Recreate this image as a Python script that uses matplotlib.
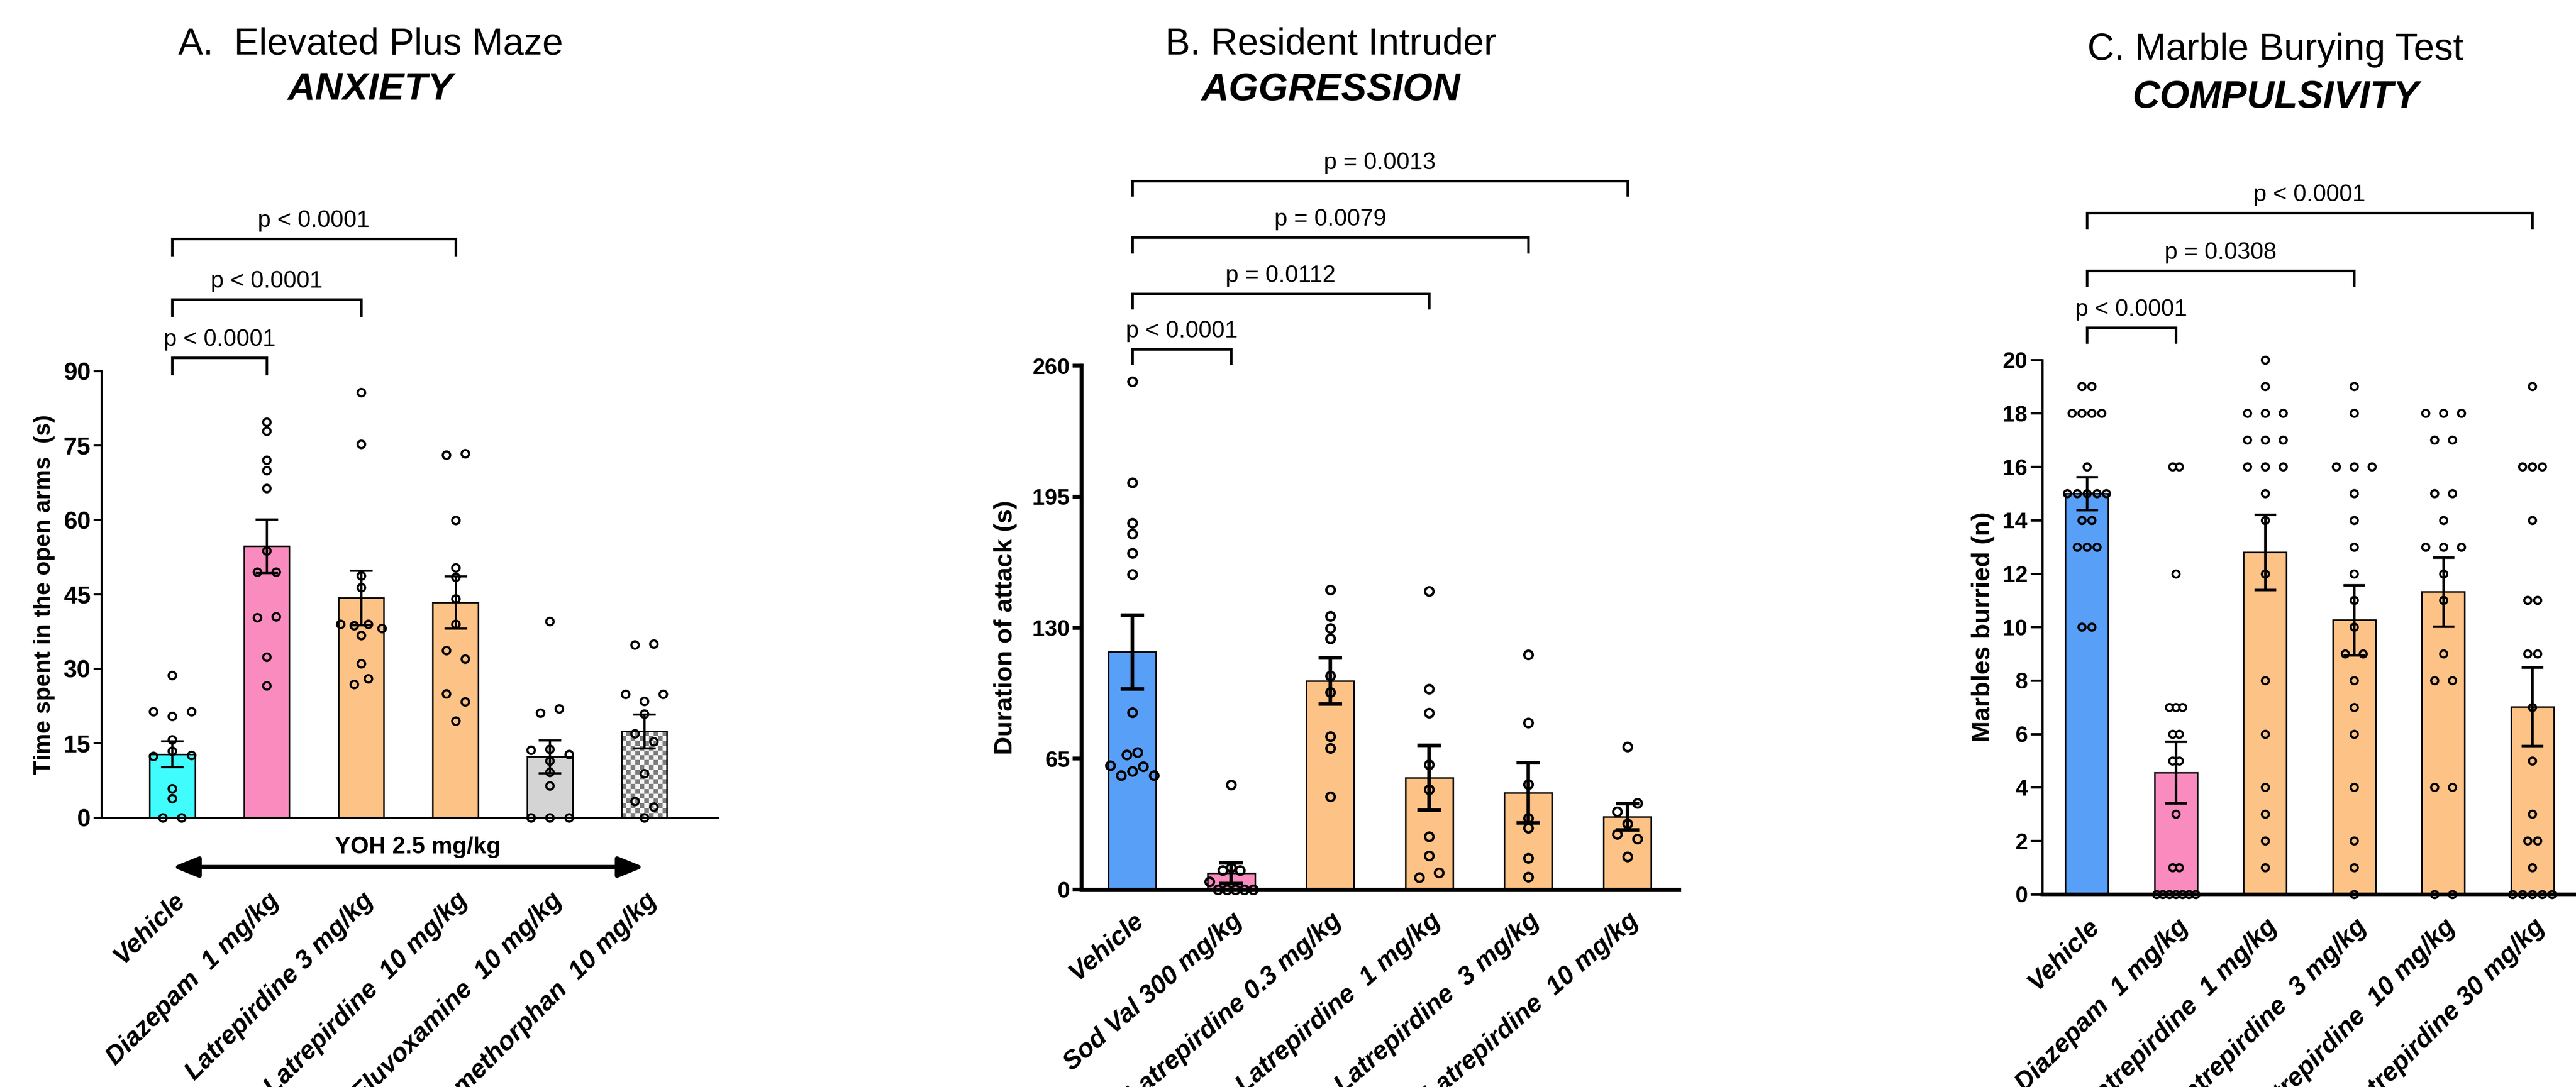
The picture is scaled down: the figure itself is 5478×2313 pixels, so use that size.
#!/usr/bin/env python3
"""
Latrepirdine behavioural panels: elevated plus maze (anxiety),
resident intruder (aggression) and marble burying (compulsivity).
Bars = mean +/- SEM, open circles = individual animals.
"""

import numpy as np
import matplotlib
matplotlib.use("Agg")
import matplotlib.pyplot as plt
from matplotlib.colors import ListedColormap
from matplotlib.patches import FancyArrowPatch
from matplotlib.transforms import blended_transform_factory

plt.rcParams['font.family'] = ['Liberation Sans', 'DejaVu Sans']

CYAN = '#40fcfc'
PINK = '#f98bbf'
ORANGE = '#fdc286'
GREY = '#d4d4d4'
BLUE = '#589ff8'

# ---- A. Elevated plus maze ----
epm_labels = ['Vehicle', 'Diazepam  1 mg/kg', 'Latrepirdine 3 mg/kg',
              'Latrepirdine  10 mg/kg', 'Fluvoxamine  10 mg/kg',
              'Dextromethorphan  10 mg/kg']
epm_mean = [12.8, 54.7, 44.3, 43.4, 12.3, 17.4]
epm_sem = [2.65, 5.4, 5.5, 5.3, 3.3, 3.45]
epm_vehicle = [28.7, 21.4, 20.4, 21.4, 15.7, 12.4, 13.4, 12.6, 5.8, 3.8, 0, 0]
epm_diazepam = [79.7, 77.9, 72.1, 70.0, 66.4, 53.8, 49.5, 49.5, 40.3, 40.5, 32.4, 26.6]
epm_latr3 = [85.7, 75.3, 48.8, 46.4, 39.0, 38.7, 39.0, 38.1, 36.7, 31.0, 26.9, 28.0]
epm_latr10 = [73.1, 73.4, 59.9, 50.4, 48.5, 44.1, 39.0, 33.7, 32.0, 25.0, 23.4, 19.5]
epm_fluvox = [39.6, 21.1, 21.9, 13.6, 13.8, 12.8, 11.4, 9.2, 6.4, 0, 0, 0]
epm_dextro = [34.8, 35.0, 24.9, 23.5, 24.9, 20.9, 16.9, 15.3, 8.9, 3.3, 2.1, 0]
epm_sig = ['p < 0.0001', 'p < 0.0001', 'p < 0.0001']
epm_sig_to = [1, 2, 3]
epm_sig_y = [92.7, 104.5, 116.7]

# ---- B. Resident intruder ----
ri_labels = ['Vehicle', 'Sod Val 300 mg/kg', 'Latrepirdine 0.3 mg/kg',
             'Latrepirdine  1 mg/kg', 'Latrepirdine  3 mg/kg',
             'Latrepirdine  10 mg/kg']
ri_mean = [117.9, 8.2, 103.6, 55.6, 48.0, 36.1]
ri_sem = [18.3, 5.2, 11.4, 16.1, 14.9, 6.6]
ri_vehicle = [252, 202, 182, 176.5, 167, 156.5, 88, 67, 68, 61.5, 56.7, 58.8, 61, 56.7]
ri_sodval = [52, 9.6, 11, 9.6, 4, 0, 0, 0, 0, 0]
ri_latr03 = [148.7, 135.8, 129.6, 124.6, 106, 98, 76.1, 70.1, 46.2]
ri_latr1 = [148.1, 99.5, 87.6, 62.1, 49.6, 26.3, 16.7, 6, 8.4]
ri_latr3 = [116.5, 82.8, 52.2, 35.5, 30.5, 15.5, 6.3]
ri_latr10 = [70.8, 38.6, 43, 32.6, 27.5, 25.1, 16.4]
ri_sig = ['p < 0.0001', 'p = 0.0112', 'p = 0.0079', 'p = 0.0013']
ri_sig_to = [1, 3, 4, 5]
ri_sig_y = [268.2, 295.7, 323.6, 351.7]

# ---- C. Marble burying ----
mbt_labels = ['Vehicle', 'Diazepam  1 mg/kg', 'Latrepirdine  1 mg/kg',
              'Latrepirdine  3 mg/kg', 'Latrepirdine  10 mg/kg',
              'Latrepirdine 30 mg/kg']
mbt_mean = [15.0, 4.56, 12.8, 10.26, 11.32, 7.02]
mbt_sem = [0.62, 1.15, 1.41, 1.31, 1.29, 1.47]
mbt_vehicle = [19, 19, 18, 18, 18, 18, 16, 15, 15, 15, 15, 15, 14, 14, 13, 13, 13, 10, 10]
mbt_diazepam = [16, 16, 12, 7, 7, 7, 6, 6, 5, 5, 3, 1, 1, 0, 0, 0, 0, 0, 0, 0]
mbt_latr1 = [20, 19, 18, 18, 18, 17, 17, 17, 16, 16, 16, 15, 14, 12, 8, 6, 4, 3, 2, 1]
mbt_latr3 = [19, 18, 16, 16, 16, 15, 14, 13, 12, 11, 10, 9, 9, 8, 7, 6, 4, 2, 1, 0]
mbt_latr10 = [18, 18, 18, 17, 17, 15, 15, 14, 13, 13, 13, 12, 11, 9, 8, 8, 4, 4, 0, 0]
mbt_latr30 = [19, 16, 16, 16, 14, 11, 11, 9, 9, 7, 5, 3, 2, 2, 1, 0, 0, 0, 0, 0]
mbt_sig = ['p < 0.0001', 'p = 0.0308', 'p < 0.0001']
mbt_sig_to = [1, 3, 5]
mbt_sig_y = [21.21, 23.34, 25.49]

BAR_W = 0.48


def swarm_offsets(values, tol, max_width=0.44, step=0.2):
    """Spread near-equal values side by side (rough GraphPad scatter)"""
    vals = np.asarray(values, float)
    order = sorted(range(len(vals)), key=lambda i: (-vals[i], i))
    clusters = []
    for i in order:
        if clusters and vals[clusters[-1][0]] - vals[i] < tol:
            clusters[-1].append(i)
        else:
            clusters.append([i])
    biggest = max(len(c) for c in clusters)
    if biggest > 1:
        step = min(step, max_width / (biggest - 1))
    offs = np.zeros(len(vals))
    for c in clusters:
        c = sorted(c)
        for k, i in enumerate(c):
            offs[i] = (k - (len(c) - 1) / 2) * step
    return offs


def checker_fill(ax, bar, cell_px=10):
    """Grey/white checkerboard inside a bar"""
    x0, y0 = bar.get_x(), bar.get_y()
    w, h = bar.get_width(), bar.get_height()
    (px0, py0), (px1, py1) = ax.transData.transform([(x0, y0), (x0 + w, y0 + h)])
    ncol = max(1, int(round((px1 - px0) / cell_px)))
    nrow = max(1, int(round((py1 - py0) / cell_px)))
    grid = np.indices((nrow, ncol)).sum(axis=0) % 2
    im = ax.imshow(grid, cmap=ListedColormap(['#f4f4f4', '#7d7d7d']),
                   extent=(x0, x0 + w, y0, y0 + h), aspect='auto',
                   interpolation='nearest', zorder=1.9)
    im.set_clip_path(bar)


def draw_panel(ax, labels, means, sems, groups, colors, ylim, yticks, xlim,
               spine_lw, tick_len, tick_w, tick_fs, err_lw, capsize, ms, mew,
               label_pad, label_rot=45, bottom_lw=None):
    x = np.arange(len(labels))
    ax.set_xlim(*xlim)
    ax.set_ylim(*ylim)

    bars = ax.bar(x, means, BAR_W, color=[c if c != 'checker' else 'none' for c in colors],
                  edgecolor='black', linewidth=0.8, zorder=2)
    for bar, c in zip(bars, colors):
        if c == 'checker':
            checker_fill(ax, bar)

    # marker diameter in data units -> tolerance for side-by-side points
    fig = ax.figure
    ax_h_px = ax.get_position().height * fig.get_figheight() * fig.dpi
    diam = (ms + mew) * fig.dpi / 72 * (ylim[1] - ylim[0]) / ax_h_px
    for i, vals in enumerate(groups):
        offs = swarm_offsets(vals, 0.9 * diam)
        ax.plot(i + offs, vals, 'o', mfc='none', mec='black', ms=ms, mew=mew,
                zorder=3, clip_on=False)

    ax.errorbar(x, means, yerr=sems, fmt='none', ecolor='black', elinewidth=err_lw,
                capsize=capsize, capthick=err_lw, zorder=4, clip_on=False)

    ax.set_xlim(*xlim)
    ax.set_ylim(*ylim)
    for side in ['top', 'right']:
        ax.spines[side].set_visible(False)
    ax.spines['left'].set_linewidth(spine_lw)
    ax.spines['bottom'].set_linewidth(bottom_lw or spine_lw)

    ax.set_yticks(yticks)
    ax.tick_params(axis='y', direction='out', length=tick_len, width=tick_w,
                   labelsize=tick_fs, pad=1.5)
    for lab in ax.get_yticklabels():
        lab.set_fontweight('bold')

    ax.set_xticks(x)
    ax.set_xticklabels(labels, rotation=label_rot, ha='right', va='top',
                       rotation_mode='anchor', fontsize=13.2, fontweight='bold',
                       fontstyle='italic')
    ax.tick_params(axis='x', length=0, pad=label_pad)


def add_brackets(ax, targets, texts, heights, leg, lw):
    for t, txt, y in zip(targets, texts, heights):
        ax.plot([0, 0, t, t], [y - leg, y, y, y - leg], color='black', lw=lw,
                clip_on=False, solid_joinstyle='miter', solid_capstyle='butt')
        ax.annotate(txt, xy=(t / 2, y), xytext=(0, 6), textcoords='offset points',
                    ha='center', va='baseline', fontsize=12, annotation_clip=False)


def main():
    fig = plt.figure(figsize=(18.26, 7.71), dpi=300)

    ax_a = fig.add_axes([0.0394, 0.2479, 0.2393, 0.4107])
    ax_b = fig.add_axes([0.4199, 0.1816, 0.2318, 0.4820])
    ax_c = fig.add_axes([0.7928, 0.1773, 0.2072, 0.4917])

    # A. Elevated plus maze
    draw_panel(ax_a, epm_labels, epm_mean, epm_sem,
               [epm_vehicle, epm_diazepam, epm_latr3, epm_latr10, epm_fluvox, epm_dextro],
               [CYAN, PINK, ORANGE, ORANGE, GREY, 'checker'],
               (0, 90), np.arange(0, 91, 15), (-0.75, 5.78),
               spine_lw=1.0, tick_len=4, tick_w=1.0, tick_fs=12.5, err_lw=1.1,
               capsize=5.8, ms=3.8, mew=1.1, label_pad=36.0)
    add_brackets(ax_a, epm_sig_to, epm_sig, epm_sig_y, 3.5, 1.3)
    trans = blended_transform_factory(ax_a.transData, ax_a.transAxes)
    arrow = FancyArrowPatch((0, -0.111), (5, -0.111), transform=trans,
                            arrowstyle='<|-|>,head_length=0.55,head_width=0.22',
                            mutation_scale=20, lw=2.2, color='black',
                            joinstyle='round', capstyle='butt',
                            shrinkA=0, shrinkB=0, clip_on=False)
    ax_a.add_patch(arrow)
    ax_a.text(2.6, -0.067, 'YOH 2.5 mg/kg', transform=trans, ha='center', va='center',
              fontsize=12, fontweight='bold')
    fig.text(0.0172, 0.453, 'Time spent in the open arms  (s)', rotation=90,
             ha='center', va='center', fontsize=12, fontweight='bold')

    # B. Resident intruder
    draw_panel(ax_b, ri_labels, ri_mean, ri_sem,
               [ri_vehicle, ri_sodval, ri_latr03, ri_latr1, ri_latr3, ri_latr10],
               [BLUE, PINK, ORANGE, ORANGE, ORANGE, ORANGE],
               (0, 260), np.arange(0, 261, 65), (-0.51, 5.52),
               spine_lw=2.0, tick_len=4.5, tick_w=2.0, tick_fs=11.5, err_lw=1.8,
               capsize=6, ms=4.3, mew=1.2, label_pad=9.5, label_rot=41,
               bottom_lw=2.2)
    add_brackets(ax_b, ri_sig_to, ri_sig, ri_sig_y, 7.8, 1.3)
    fig.text(0.3903, 0.4226, 'Duration of attack (s)', rotation=90,
             ha='center', va='center', fontsize=13, fontweight='bold')

    # C. Marble burying
    draw_panel(ax_c, mbt_labels, mbt_mean, mbt_sem,
               [mbt_vehicle, mbt_diazepam, mbt_latr1, mbt_latr3, mbt_latr10, mbt_latr30],
               [BLUE, PINK, ORANGE, ORANGE, ORANGE, ORANGE],
               (0, 20), np.arange(0, 21, 2), (-0.50, 5.49),
               spine_lw=1.1, tick_len=6, tick_w=1.2, tick_fs=11.5, err_lw=1.3,
               capsize=5.5, ms=3.6, mew=1.1, label_pad=10.3, bottom_lw=1.8)
    add_brackets(ax_c, mbt_sig_to, mbt_sig, mbt_sig_y, 0.6, 1.3)
    fig.text(0.7698, 0.4232, 'Marbles burried (n)', rotation=90,
             ha='center', va='center', fontsize=13, fontweight='bold')

    # panel titles
    titles = [(0.1438, 'A.  Elevated Plus Maze', 'ANXIETY', 0.9585, 0.9170),
              (0.5166, 'B. Resident Intruder', 'AGGRESSION', 0.9585, 0.9170),
              (0.8833, 'C. Marble Burying Test', 'COMPULSIVITY', 0.9540, 0.9100)]
    for xc, t1, t2, y1, y2 in titles:
        fig.text(xc, y1, t1, ha='center', va='center', fontsize=19)
        fig.text(xc, y2, t2, ha='center', va='center', fontsize=19.5,
                 fontweight='bold', fontstyle='italic')

    fig.savefig('out.png', dpi=300)
    print("Saved out.png")


if __name__ == "__main__":
    main()
